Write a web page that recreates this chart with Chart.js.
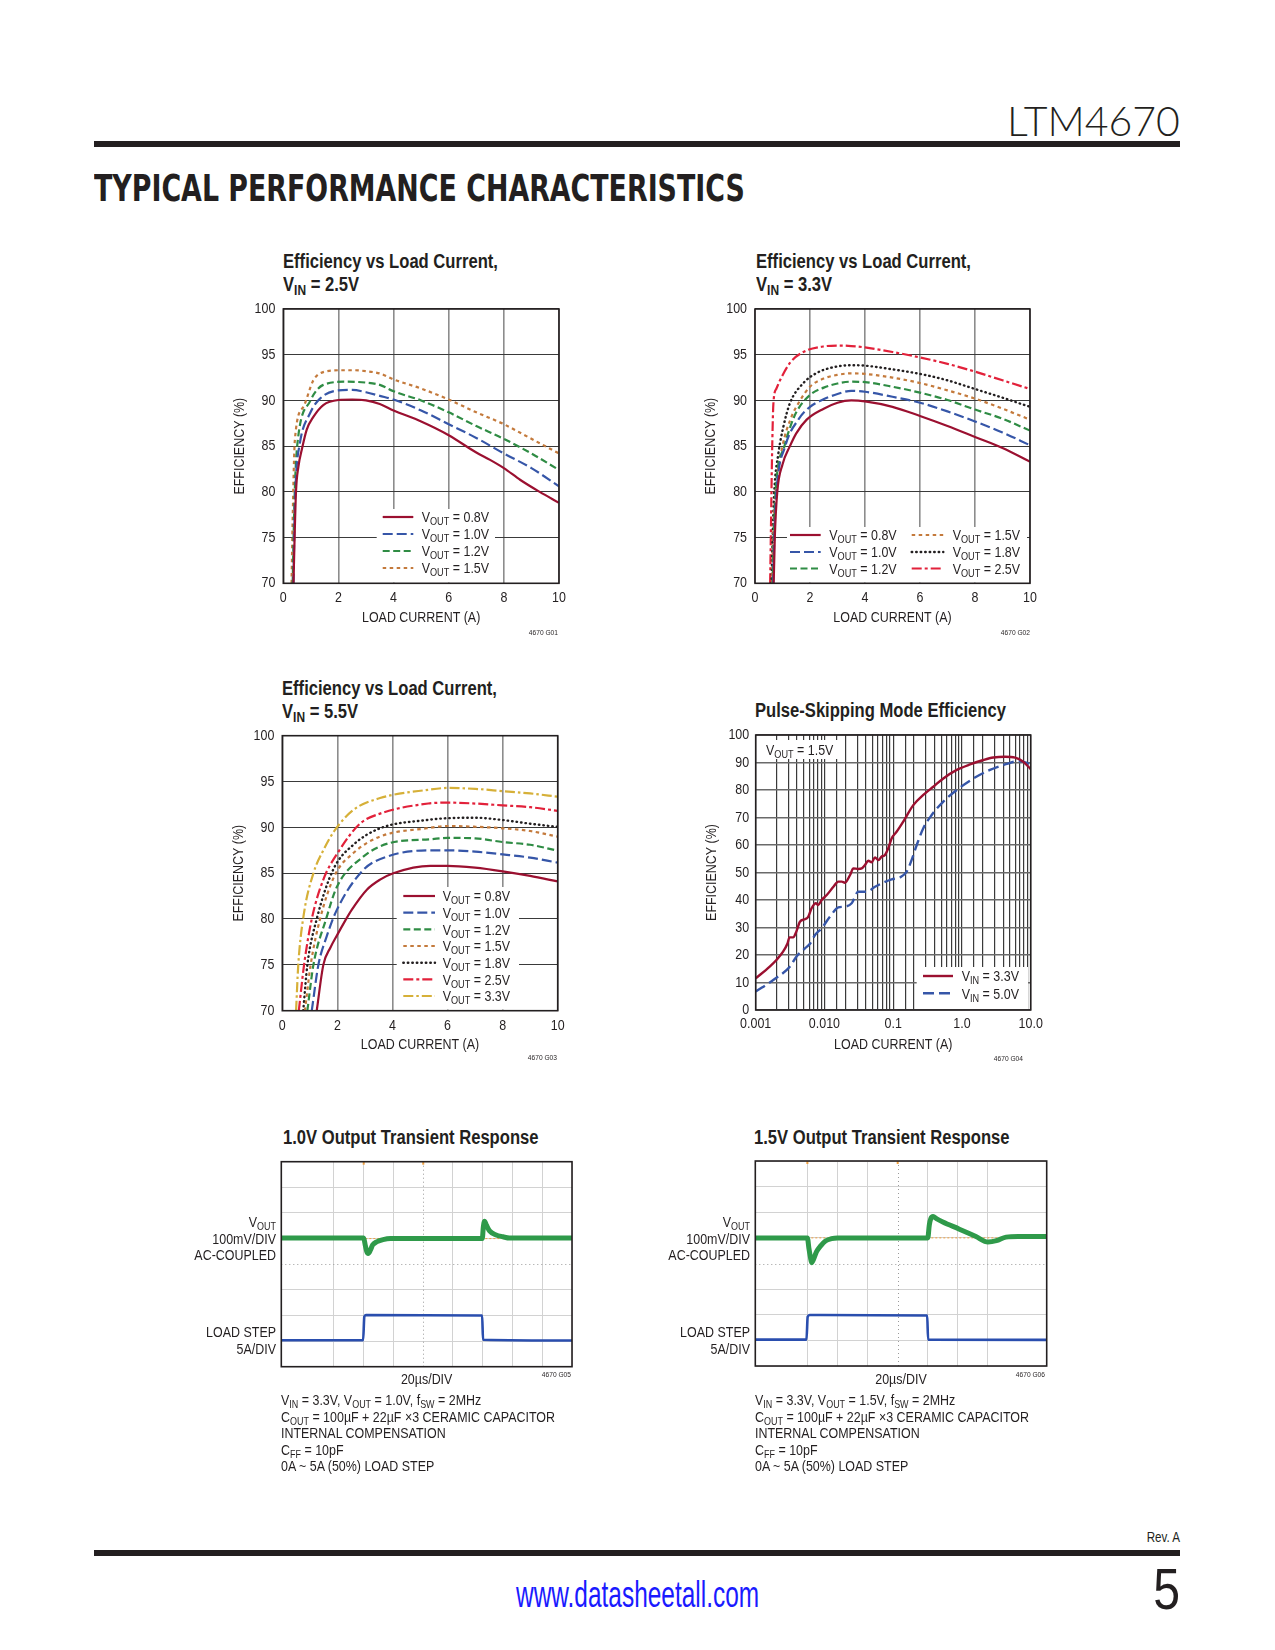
<!DOCTYPE html>
<html>
<head>
<meta charset="utf-8">
<title>LTM4670 Typical Performance Characteristics</title>
<script src="https://cdn.jsdelivr.net/npm/chart.js@4.4.1/dist/chart.umd.min.js"></script>
<style>
  body { margin: 0; background: #fff; }
  #page { position: relative; width: 1275px; height: 1650px; overflow: hidden;
          font-family: 'Liberation Sans', Arial, sans-serif; color: #231f20; }
  #page div, #page canvas { position: absolute; }
  .rule { background: #231f20; left: 94px; width: 1086px; height: 6px; }
  .sq { transform: scaleX(0.83); transform-origin: left top; }
  .sq.r { transform-origin: right top; text-align: right; }
  .ctitle { font-weight: bold; font-size: 20px; line-height: 22.5px; white-space: nowrap; }
  .lbl { font-size: 15px; line-height: 16.5px; white-space: nowrap; }
  .code { font-size: 8px; line-height: 8px; width: 60px; white-space: nowrap; }
  sub { font-size: 72%; vertical-align: -0.25em; line-height: 0; }
</style>
</head>
<body>
<div id="page">
  <div id="part" style="left:1000px; top:100px; font-family:Lato,'Open Sans',sans-serif; font-weight:300; font-size:41px; line-height:41px;">LTM4670</div>
  <div class="rule" style="top:141px;"></div>
  <div id="heading" style="left:94px; top:169px; font-family:'DejaVu Sans Condensed','DejaVu Sans',sans-serif; font-size:38px; line-height:38px; font-weight:bold; white-space:nowrap;">TYPICAL PERFORMANCE CHARACTERISTICS</div>

  <div class="ctitle sq" style="left:283px; top:250px;">Efficiency vs Load Current,<br>V<sub>IN</sub> = 2.5V</div>
  <div class="ctitle sq" style="left:756px; top:250px;">Efficiency vs Load Current,<br>V<sub>IN</sub> = 3.3V</div>
  <canvas id="c1"></canvas>
  <canvas id="c2"></canvas>
  <div class="code sq r" style="left:498px; top:629px;">4670 G01</div>
  <div class="code sq r" style="left:970px; top:629px;">4670 G02</div>

  <div class="ctitle sq" style="left:282px; top:677px;">Efficiency vs Load Current,<br>V<sub>IN</sub> = 5.5V</div>
  <div class="ctitle sq" style="left:755px; top:699px;">Pulse-Skipping Mode Efficiency</div>
  <canvas id="c3"></canvas>
  <canvas id="c4"></canvas>
  <div class="code sq r" style="left:497px; top:1054px;">4670 G03</div>
  <div class="code sq r" style="left:963px; top:1055px;">4670 G04</div>

  <div class="ctitle sq" style="left:283px; top:1126px;">1.0V Output Transient Response</div>
  <div class="ctitle sq" style="left:754px; top:1126px;">1.5V Output Transient Response</div>
  <canvas id="c5"></canvas>
  <canvas id="c6"></canvas>
  <div class="code sq r" style="left:511px; top:1371px;">4670 G05</div>
  <div class="code sq r" style="left:985px; top:1371px;">4670 G06</div>

  <div class="lbl sq r" style="left:126px; width:150px; top:1214px;">V<sub>OUT</sub><br>100mV/DIV<br>AC-COUPLED</div>
  <div class="lbl sq r" style="left:126px; width:150px; top:1324px;">LOAD STEP<br>5A/DIV</div>
  <div class="lbl sq r" style="left:600px; width:150px; top:1214px;">V<sub>OUT</sub><br>100mV/DIV<br>AC-COUPLED</div>
  <div class="lbl sq r" style="left:600px; width:150px; top:1324px;">LOAD STEP<br>5A/DIV</div>

  <div class="lbl sq" style="left:281px; top:1392px;">V<sub>IN</sub> = 3.3V, V<sub>OUT</sub> = 1.0V, f<sub>SW</sub> = 2MHz<br>C<sub>OUT</sub> = 100µF + 22µF ×3 CERAMIC CAPACITOR<br>INTERNAL COMPENSATION<br>C<sub>FF</sub> = 10pF<br>0A ~ 5A (50%) LOAD STEP</div>
  <div class="lbl sq" style="left:755px; top:1392px;">V<sub>IN</sub> = 3.3V, V<sub>OUT</sub> = 1.5V, f<sub>SW</sub> = 2MHz<br>C<sub>OUT</sub> = 100µF + 22µF ×3 CERAMIC CAPACITOR<br>INTERNAL COMPENSATION<br>C<sub>FF</sub> = 10pF<br>0A ~ 5A (50%) LOAD STEP</div>

  <div class="sq r" style="left:1100px; width:80px; top:1530px; font-size:14px; line-height:14px;">Rev. A</div>
  <div class="rule" style="top:1550px;"></div>
  <div id="url" style="left:516px; top:1576px; font-size:37px; line-height:37px; color:#1a1aff; white-space:nowrap;">www.datasheetall.com</div>
  <div class="sq r" style="left:1100px; width:80px; top:1560px; font-size:58px; line-height:58px;">5</div>
</div>

<script>
// ---------- Efficiency vs load current, VIN = 2.5V
const vin25Vout = ['0.8V', '1.0V', '1.2V', '1.5V'];
const i25_08 = [0.37, 0.41, 0.46, 0.55, 0.67, 0.85, 1.09, 1.45, 2.0, 2.5, 3.0, 3.5, 4.0, 5.0, 6.0, 7.0, 7.5, 8.0, 8.6, 9.3, 10];
const e25_08 = [70, 75, 80, 82.8, 84.6, 86.8, 88.2, 89.5, 90.05, 90.1, 90.0, 89.6, 88.9, 87.7, 86.2, 84.3, 83.5, 82.6, 81.3, 80.0, 78.8];
const i25_10 = [0.37, 0.40, 0.45, 0.6, 0.97, 1.33, 2.0, 2.5, 3.0, 3.5, 4.0, 5.0, 6.0, 7.0, 8.0, 9.0, 10];
const e25_10 = [70, 76, 81, 85.3, 88.6, 90.2, 91.1, 91.15, 90.9, 90.5, 90.1, 88.9, 87.4, 85.9, 84.2, 82.6, 80.6];
const i25_12 = [0.34, 0.38, 0.44, 0.54, 0.97, 1.45, 2.3, 3.0, 3.5, 4.0, 5.0, 6.0, 7.0, 8.0, 9.0, 10];
const e25_12 = [70, 76, 82, 86.0, 89.9, 91.7, 92.05, 91.95, 91.7, 91.0, 90.0, 88.7, 87.2, 85.8, 84.2, 82.4];
const i25_15 = [0.30, 0.34, 0.42, 0.73, 1.09, 1.45, 2.06, 2.6, 3.0, 3.5, 4.0, 5.0, 6.0, 7.0, 8.0, 9.0, 10];
const e25_15 = [70, 77, 85.7, 89.3, 92.2, 93.1, 93.3, 93.3, 93.2, 92.95, 92.3, 91.3, 90.1, 88.7, 87.4, 85.8, 84.2];

// ---------- VIN = 3.3V
const vin33Vout = ['0.8V', '1.0V', '1.2V', '1.5V', '1.8V', '2.5V'];
const i33_08 = [0.68, 0.72, 0.81, 1.0, 1.27, 1.5, 1.88, 2.5, 3.0, 3.5, 4.0, 5.0, 6.0, 7.0, 8.0, 9.0, 10];
const e33_08 = [70, 75, 80, 83, 85, 86.4, 87.9, 89.1, 89.75, 90.0, 89.9, 89.3, 88.3, 87.2, 86.0, 84.8, 83.3];
const i33_10 = [0.66, 0.70, 0.78, 1.1, 1.6, 2.0, 2.4, 3.0, 3.5, 4.0, 5.0, 6.0, 7.0, 8.0, 9.0, 10];
const e33_10 = [70, 75, 80, 85, 88, 89.3, 90.0, 90.7, 91.05, 90.95, 90.4, 89.75, 88.8, 87.7, 86.5, 85.1];
const i33_12 = [0.64, 0.68, 0.76, 1.07, 1.27, 1.5, 2.0, 2.5, 3.0, 3.5, 4.0, 5.0, 6.0, 7.0, 8.0, 9.0, 10];
const e33_12 = [70, 75, 80.5, 85, 87, 88.7, 90.6, 91.4, 91.85, 92.05, 92.0, 91.5, 90.85, 90.05, 89.0, 88.0, 86.7];
const i33_15 = [0.62, 0.66, 0.75, 1.0, 1.3, 1.6, 2.0, 2.5, 3.0, 3.5, 4.0, 5.0, 6.0, 7.0, 8.0, 9.0, 10];
const e33_15 = [70, 75, 80, 85, 88, 89.8, 91.5, 92.4, 92.8, 92.96, 92.9, 92.5, 91.9, 91.1, 90.2, 89.1, 87.9];
const i33_18 = [0.60, 0.64, 0.70, 0.85, 1.03, 1.27, 1.76, 2.24, 2.8, 3.5, 4.0, 5.0, 6.0, 7.0, 8.0, 9.0, 10];
const e33_18 = [70, 75, 80, 84.2, 87.1, 89.7, 91.9, 93.0, 93.6, 93.85, 93.8, 93.4, 92.9, 92.2, 91.25, 90.3, 89.3];
const i33_25 = [0.55, 0.58, 0.62, 0.67, 0.78, 0.91, 1.27, 1.76, 2.48, 3.1, 3.5, 4.0, 5.0, 6.0, 7.0, 8.0, 9.0, 10];
const e33_25 = [70, 76, 84, 89.7, 91.3, 92.2, 94.1, 95.3, 95.9, 96.0, 95.95, 95.8, 95.3, 94.7, 94.0, 93.15, 92.2, 91.25];

// ---------- VIN = 5.5V
const vin55Vout = ['0.8V', '1.0V', '1.2V', '1.5V', '1.8V', '2.5V', '3.3V'];
const i55_08 = [1.25, 1.49, 1.75, 2.0, 2.28, 2.52, 3.07, 3.55, 4.03, 5.37, 6.0, 7.0, 8.0, 9.0, 10];
const e55_08 = [70, 75, 76.9, 78.3, 79.8, 81.0, 83.2, 84.3, 85.0, 85.8, 85.8, 85.6, 85.2, 84.7, 84.1];
const i55_10 = [1.07, 1.31, 1.6, 1.98, 2.94, 3.79, 5.37, 6.0, 7.0, 8.0, 9.0, 10];
const e55_10 = [70, 75, 78, 81.0, 85.35, 86.8, 87.5, 87.5, 87.35, 87.05, 86.7, 86.15];
const i55_12 = [0.91, 1.13, 1.59, 1.98, 2.94, 3.91, 5.37, 6.0, 7.0, 8.0, 9.0, 10];
const e55_12 = [70, 75, 80, 83.5, 86.8, 88.3, 88.7, 88.85, 88.8, 88.4, 88.1, 87.45];
const i55_15 = [0.82, 1.03, 1.37, 1.91, 2.58, 3.55, 5.24, 6.0, 7.0, 8.0, 9.0, 10];
const e55_15 = [70, 75, 80, 84.8, 87.2, 89.0, 89.9, 90.15, 90.07, 89.9, 89.6, 88.98];
const i55_18 = [0.76, 0.91, 1.25, 1.85, 2.58, 3.55, 5.24, 6.0, 7.0, 8.0, 9.0, 10];
const e55_18 = [70, 75, 80, 85.4, 88.1, 89.9, 90.8, 91.0, 91.05, 90.8, 90.4, 90.05];
const i55_25 = [0.6, 0.79, 1.07, 1.49, 2.03, 2.82, 3.55, 5.3, 6.0, 7.0, 8.0, 9.0, 10];
const e55_25 = [70, 75, 80, 84.3, 87.3, 90.4, 91.5, 92.6, 92.7, 92.6, 92.4, 92.2, 91.8];
const i55_33 = [0.5, 0.58, 0.78, 1.13, 1.49, 1.91, 2.58, 3.55, 5.3, 6.0, 7.0, 8.0, 9.0, 10];
const e55_33 = [70, 75, 80.5, 85.0, 87.5, 89.7, 91.9, 93.2, 94.1, 94.3, 94.2, 93.95, 93.7, 93.35];

// ---------- Pulse-skipping mode efficiency, VOUT = 1.5V
const psmVin = ['3.3V', '5.0V'];
const psmTickValues = [0.001, 0.01, 0.1, 1, 10];
const psmTickLabels = ['0.001', '0.010', '0.1', '1.0', '10.0'];
const psm33_i = [0.001, 0.0016, 0.002, 0.0025, 0.0029, 0.0031, 0.0035, 0.0039, 0.0044, 0.0052, 0.0058, 0.0065, 0.0075, 0.0081, 0.0091, 0.0108, 0.0135, 0.0159, 0.0179, 0.0198, 0.0236, 0.0263, 0.031, 0.0349, 0.0389, 0.0434, 0.0486, 0.0544, 0.0608, 0.068, 0.0759, 0.0848, 0.0948, 0.112, 0.14, 0.196, 0.274, 0.383, 0.536, 0.84, 1.31, 2.05, 2.86, 4.22, 5.94, 7.8, 10];
const psm33_e = [11.5, 15.8, 18.2, 21.2, 24.2, 26.4, 26.4, 28.5, 32.1, 33.0, 33.9, 37.0, 38.8, 38.2, 40.0, 41.8, 44.8, 46.7, 46.7, 46.3, 49.1, 51.5, 51.3, 51.5, 52.7, 54.3, 53.7, 55.5, 54.5, 55.8, 56.4, 58.8, 62.4, 64.8, 68.5, 74.5, 78.2, 81.2, 84.2, 87.3, 89.3, 90.9, 91.8, 92.1, 91.8, 90.3, 87.6];
const psm50_i = [0.001, 0.0018, 0.0032, 0.0039, 0.0052, 0.0062, 0.0073, 0.0091, 0.012, 0.0159, 0.0198, 0.0249, 0.031, 0.041, 0.0544, 0.072, 0.0948, 0.125, 0.157, 0.185, 0.22, 0.274, 0.363, 0.536, 0.84, 1.47, 2.56, 4.5, 6.6, 8.8, 10];
const psm50_e = [6.7, 10.9, 16.0, 19.4, 22.4, 24.2, 27.3, 29.7, 33.9, 37.3, 37.6, 38.8, 43.0, 43.0, 44.8, 46.3, 47.5, 48.2, 50.3, 54.5, 60.0, 66.1, 70.9, 75.8, 80.0, 84.2, 87.3, 89.5, 90.5, 89.9, 89.1];

// ---------- Transient responses (time in µs, trace position in divisions from bottom)
const t1Vout_t = [4.6, 60, 61, 62, 63, 64.5, 66, 69, 73, 78, 139.7, 140.4, 141.2, 142.5, 144.6, 149, 153.6, 158, 200];
const t1Vout_v = [5.02, 5.02, 4.75, 4.5, 4.42, 4.55, 4.75, 4.88, 4.96, 5.0, 5.0, 5.45, 5.68, 5.52, 5.3, 5.14, 5.07, 5.02, 5.02];
const t1Load_t = [4.6, 59.6, 60.4, 61.5, 139.6, 140.2, 200];
const t1Load_v = [1.03, 1.03, 1.95, 2.02, 2.0, 1.05, 1.02];
const t2Vout_t = [5.4, 40, 41, 42, 42.8, 44, 46, 49, 52, 56, 60, 120, 121, 122, 123.5, 126, 130, 141, 152, 160, 165.6, 172, 180, 199];
const t2Vout_v = [5.0, 5.0, 4.6, 4.25, 4.03, 4.15, 4.45, 4.7, 4.88, 4.97, 5.0, 5.0, 5.5, 5.75, 5.83, 5.74, 5.62, 5.34, 5.05, 4.84, 4.89, 5.03, 5.05, 5.05];
const t2Load_t = [5.4, 39.4, 40.2, 41.5, 119.6, 120.2, 199];
const t2Load_v = [1.03, 1.03, 1.92, 1.99, 1.97, 1.03, 1.02];

// ---------- styles
const INK = '#231f20';
const SANS = "'Liberation Sans', Arial, sans-serif";
const SQ = 0.83;   // horizontal squeeze, turns Liberation Sans into a narrow face
Chart.defaults.font.family = SANS;
Chart.defaults.color = INK;

const VOUT_STYLE = {
  '0.8V': { borderColor: '#9b1030', borderWidth: 2.2 },
  '1.0V': { borderColor: '#3656a8', borderWidth: 2.2, borderDash: [10, 4] },
  '1.2V': { borderColor: '#2f8c44', borderWidth: 2.2, borderDash: [7, 3.5] },
  '1.5V': { borderColor: '#c47a3c', borderWidth: 2.2, borderDash: [3.5, 3.5] },
  '1.8V': { borderColor: INK, borderWidth: 2.4, borderDash: [0.5, 4], borderCapStyle: 'round' },
  '2.5V': { borderColor: '#e2213a', borderWidth: 2.2, borderDash: [10, 3, 3, 3] },
  '3.3V': { borderColor: '#d6b038', borderWidth: 2.2, borderDash: [10, 3, 2.5, 3] }
};
const VIN_STYLE = {
  '3.3V': { borderColor: '#9b1030', borderWidth: 2.4 },
  '5.0V': { borderColor: '#3656a8', borderWidth: 2.4, borderDash: [11, 5] }
};

function series(xs, ys, style) {
  return Object.assign({ data: xs.map((x, k) => ({ x: x, y: ys[k] })) }, style);
}

function subText(ctx, x, y, sub, text) {
  ctx.fillStyle = INK;
  ctx.textAlign = 'left';
  ctx.textBaseline = 'alphabetic';
  const base = y + 5.3;
  ctx.font = '15px ' + SANS;
  ctx.fillText('V', x, base);
  x += ctx.measureText('V').width * SQ;
  ctx.font = '11px ' + SANS;
  ctx.fillText(sub, x, base + 3);
  x += ctx.measureText(sub).width * SQ;
  ctx.font = '15px ' + SANS;
  ctx.fillText(text, x, base);
}

// legend boxes, scope graticule extras and the plot frame
const sheetDecor = {
  id: 'sheetDecor',
  beforeDatasetsDraw(chart, args, o) {
    if (!o.scope) return;
    const ctx = chart.ctx, a = chart.chartArea, sx = chart.scales.x, sy = chart.scales.y;
    ctx.save();
    ctx.strokeStyle = '#9a9a9a';
    ctx.lineWidth = 1;
    ctx.setLineDash([1, 3]);
    const cx = Math.round(sx.getPixelForValue(100)) + 0.5, cy = Math.round(sy.getPixelForValue(4)) + 0.5;
    ctx.beginPath();
    ctx.moveTo(cx, a.top); ctx.lineTo(cx, a.bottom);
    ctx.moveTo(a.left, cy); ctx.lineTo(a.right, cy);
    ctx.stroke();
    ctx.strokeStyle = '#f0a040';
    ctx.setLineDash([2, 2]);
    const ry = sy.getPixelForValue(o.ref);
    ctx.beginPath(); ctx.moveTo(a.left, ry); ctx.lineTo(a.right, ry); ctx.stroke();
    ctx.setLineDash([]);
    ctx.lineWidth = 2;
    o.marks.forEach(m => {
      const mx = sx.getPixelForValue(m);
      ctx.beginPath(); ctx.moveTo(mx, a.top); ctx.lineTo(mx, a.top + 3); ctx.stroke();
    });
    ctx.restore();
  },
  afterDatasetsDraw(chart, args, o) {
    const ctx = chart.ctx, a = chart.chartArea;
    const ox = o.origin[0], oy = o.origin[1];
    ctx.save();
    ctx.fillStyle = '#fff';
    (o.boxes || []).forEach(b => ctx.fillRect(b[0] - ox, b[1] - oy, b[2] - b[0], b[3] - b[1]));
    (o.items || []).forEach(it => {
      const ds = chart.data.datasets[it.ds];
      ctx.strokeStyle = ds.borderColor;
      ctx.lineWidth = ds.borderWidth;
      ctx.lineCap = ds.borderCapStyle || 'butt';
      ctx.setLineDash(ds.borderDash || []);
      ctx.beginPath();
      ctx.moveTo(it.x0 - ox, it.y - oy);
      ctx.lineTo(it.x1 - ox, it.y - oy);
      ctx.stroke();
      ctx.setLineDash([]);
      subText(ctx, it.tx - ox, it.y - oy, it.sub, it.text);
    });
    (o.notes || []).forEach(n => subText(ctx, n.x - ox, n.y - oy, n.sub, n.text));
    ctx.strokeStyle = INK;
    ctx.lineWidth = 1.6;
    ctx.lineCap = 'butt';
    ctx.strokeRect(a.left, a.top, a.right - a.left, a.bottom - a.top);
    ctx.restore();
  }
};

function placeCanvas(id, box) {
  const cv = document.getElementById(id);
  cv.width = box.w;
  cv.height = box.h;
  cv.style.left = box.x + 'px';
  cv.style.top = box.y + 'px';
  // every label drawn on this canvas gets squeezed about its anchor point
  const ctx = cv.getContext('2d');
  const fill = ctx.fillText;
  ctx.fillText = function (t, x, y) {
    this.save();
    this.translate(x, y);
    this.scale(SQ, 1);
    fill.call(this, t, 0, 0);
    this.restore();
  };
  return cv;
}

const tickFont = { size: 15 };
const axisFont = { size: 15 };

function effChart(id, box, plot, titlePad, xScale, yScale, datasets, decor) {
  const cv = placeCanvas(id, box);
  decor.origin = [box.x, box.y];
  xScale.afterFit = s => { s.height = box.y + box.h - plot.b; };
  yScale.afterFit = s => { s.width = plot.l - box.x; };
  xScale.title = { display: true, text: 'LOAD CURRENT (A)', font: axisFont, color: INK, padding: { top: 0, bottom: titlePad.x } };
  yScale.title = { display: true, text: 'EFFICIENCY (%)', font: axisFont, color: INK, padding: { top: titlePad.y, bottom: 0 } };
  xScale.border = { display: false };
  yScale.border = { display: false };
  return new Chart(cv, {
    type: 'line',
    data: { datasets: datasets },
    options: {
      responsive: false,
      animation: false,
      devicePixelRatio: 1,
      layout: { padding: { left: 0, bottom: 0, top: plot.t - box.y, right: box.x + box.w - plot.r } },
      elements: { point: { radius: 0 }, line: { fill: false, cubicInterpolationMode: 'monotone' } },
      plugins: { legend: { display: false }, tooltip: { enabled: false }, sheetDecor: decor },
      scales: { x: xScale, y: yScale }
    },
    plugins: [sheetDecor]
  });
}

function linX() {
  return { type: 'linear', min: 0, max: 10,
    ticks: { stepSize: 2, padding: 6, font: tickFont, color: INK, maxRotation: 0 },
    grid: { color: '#8c8c8c', lineWidth: 1.6, drawTicks: false } };
}
function effY() {
  return { type: 'linear', min: 70, max: 100,
    ticks: { stepSize: 5, padding: 8, font: tickFont, color: INK },
    grid: { color: '#3a3a3a', lineWidth: 1.1, drawTicks: false } };
}
function voutItems(labels, cols) {
  const out = [];
  labels.forEach((v, k) => {
    const c = cols[Math.floor(k / cols[0].rows.length)];
    const r = k % cols[0].rows.length;
    out.push({ ds: k, x0: c.x0, x1: c.x1, tx: c.tx, y: c.rows[r], sub: 'OUT', text: ' = ' + v });
  });
  return out;
}

// chart 1 : VIN = 2.5V
effChart('c1', { x: 212, y: 290, w: 365, h: 345 }, { l: 283.3, t: 309, r: 559, b: 583.3 }, { x: 8, y: 19 },
  linX(), effY(),
  [series(i25_08, e25_08, VOUT_STYLE['0.8V']), series(i25_10, e25_10, VOUT_STYLE['1.0V']),
   series(i25_12, e25_12, VOUT_STYLE['1.2V']), series(i25_15, e25_15, VOUT_STYLE['1.5V'])],
  { boxes: [[376.7, 509, 495, 582.5]],
    items: voutItems(vin25Vout, [{ x0: 382.7, x1: 413.3, tx: 421.7, rows: [517, 534, 551, 568] }]) });

// chart 2 : VIN = 3.3V
effChart('c2', { x: 682, y: 290, w: 365, h: 345 }, { l: 755, t: 309, r: 1030, b: 583.3 }, { x: 8, y: 20 },
  linX(), effY(),
  vin33Vout.map((v, k) => series([i33_08, i33_10, i33_12, i33_15, i33_18, i33_25][k],
                                 [e33_08, e33_10, e33_12, e33_15, e33_18, e33_25][k], VOUT_STYLE[v])),
  { boxes: [[787, 527, 1027, 582.5]],
    items: voutItems(vin33Vout, [{ x0: 790, x1: 820.7, tx: 829.3, rows: [535, 552, 568.5] },
                                 { x0: 911.7, x1: 943.3, tx: 952.7, rows: [535, 552, 568.5] }]) });

// chart 3 : VIN = 5.5V
effChart('c3', { x: 212, y: 716, w: 365, h: 345 }, { l: 282.3, t: 735.7, r: 557.7, b: 1010.7 }, { x: 7, y: 18 },
  linX(), effY(),
  vin55Vout.map((v, k) => series([i55_08, i55_10, i55_12, i55_15, i55_18, i55_25, i55_33][k],
                                 [e55_08, e55_10, e55_12, e55_15, e55_18, e55_25, e55_33][k], VOUT_STYLE[v])),
  { boxes: [[396.7, 887, 519, 1009.5]],
    items: voutItems(vin55Vout, [{ x0: 403.3, x1: 435, tx: 442.7, rows: [896, 912.7, 929.3, 946, 962.7, 979.3, 996] }]) });

// chart 4 : pulse-skipping mode, log load current
(function () {
  const xs = { type: 'logarithmic', min: 0.001, max: 10,
    ticks: { autoSkip: false, padding: 5, font: tickFont, color: INK, maxRotation: 0,
      callback: v => {
        const k = psmTickValues.findIndex(t => Math.abs(t - v) / t < 1e-6);
        return k < 0 ? '' : psmTickLabels[k];
      } },
    grid: { color: '#3a3a3a', lineWidth: 1.2, drawTicks: false } };
  const ys = { type: 'linear', min: 0, max: 100,
    ticks: { stepSize: 10, padding: 6.5, font: tickFont, color: INK },
    grid: { color: '#6a6a6a', lineWidth: 1.4, drawTicks: false } };
  effChart('c4', { x: 682, y: 716, w: 370, h: 345 }, { l: 755.7, t: 735, r: 1030.7, b: 1010 }, { x: 7, y: 21 },
    xs, ys,
    [series(psm33_i, psm33_e, VIN_STYLE['3.3V']), series(psm50_i, psm50_e, VIN_STYLE['5.0V'])],
    { boxes: [[916.7, 967, 1028, 1009], [762, 740, 838, 759]],
      items: psmVin.map((v, k) => ({ ds: k, x0: 923, x1: 953, tx: 961.7, y: [976, 993.3][k], sub: 'IN', text: ' = ' + v })),
      notes: [{ x: 766, y: 750, sub: 'OUT', text: ' = 1.5V' }] });
})();

// oscilloscope captures
function scopeChart(id, box, plot, xr, vt, vv, lt, lv, marks) {
  const cv = placeCanvas(id, box);
  return new Chart(cv, {
    type: 'line',
    data: { datasets: [
      series(vt, vv, { borderColor: '#2f9a4a', borderWidth: 5 }),
      series(lt, lv, { borderColor: '#2a4eae', borderWidth: 2.6 })
    ] },
    options: {
      responsive: false,
      animation: false,
      devicePixelRatio: 1,
      layout: { padding: { left: 0, bottom: 0, top: plot.t - box.y, right: box.x + box.w - plot.r } },
      elements: { point: { radius: 0 }, line: { fill: false, cubicInterpolationMode: 'monotone' } },
      plugins: { legend: { display: false }, tooltip: { enabled: false },
        sheetDecor: { origin: [box.x, box.y], scope: true, ref: 5, marks: marks } },
      scales: {
        x: { type: 'linear', min: xr[0], max: xr[1],
          afterFit: s => { s.height = box.y + box.h - plot.b; },
          ticks: { display: false, stepSize: 20 },
          grid: { drawTicks: false, lineWidth: 1, color: c => (c.tick && c.tick.value === 100) ? 'rgba(0,0,0,0)' : '#d2d2d2' },
          border: { display: false },
          title: { display: true, text: '20µs/DIV', font: axisFont, color: INK, padding: { top: 0, bottom: 6.5 } } },
        y: { type: 'linear', min: 0, max: 8,
          afterFit: s => { s.width = plot.l - box.x; },
          ticks: { display: false, stepSize: 1 },
          grid: { drawTicks: false, lineWidth: 1, color: c => (c.tick && c.tick.value === 4) ? 'rgba(0,0,0,0)' : '#d2d2d2' },
          border: { display: false } }
      }
    },
    plugins: [sheetDecor]
  });
}

scopeChart('c5', { x: 275, y: 1150, w: 310, h: 245 }, { l: 281.3, t: 1161.7, r: 572, b: 1366.7 }, [4.6, 200],
  t1Vout_t, t1Vout_v, t1Load_t, t1Load_v, [60, 100]);
scopeChart('c6', { x: 749, y: 1150, w: 310, h: 245 }, { l: 755.3, t: 1161, r: 1046.7, b: 1366 }, [5.4, 199],
  t2Vout_t, t2Vout_v, t2Load_t, t2Load_v, [40, 100]);

// squeeze a few display texts to the widths they take on the sheet
function fitWidth(id, w, origin) {
  const el = document.getElementById(id);
  el.style.transformOrigin = origin;
  el.style.transform = 'scaleX(' + (w / el.offsetWidth) + ')';
}
fitWidth('heading', 651, 'left top');
fitWidth('url', 243, 'left top');
(function () {
  const el = document.getElementById('part');
  el.style.left = (1180 - el.offsetWidth) + 'px';
})();
</script>
</body>
</html>
